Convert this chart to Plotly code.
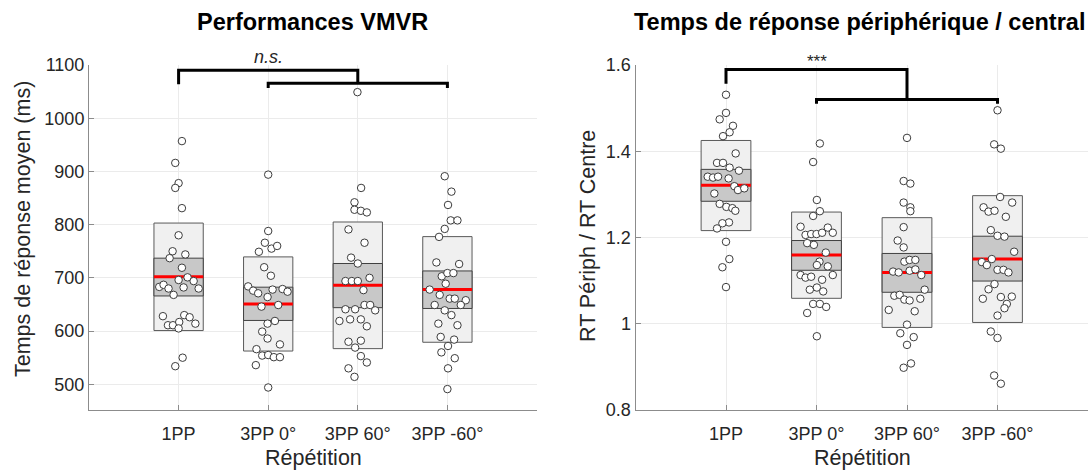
import plotly.graph_objects as go

# ---------------- data ----------------
categories = ["1PP", "3PP 0°", "3PP 60°", "3PP -60°"]
cat_pos = [1, 2, 3, 4]

# Left panel: Performances VMVR (ms)
vmvr_1pp = [957, 916, 878, 869, 831, 780, 750, 737, 744, 719, 683, 687, 680, 668, 696, 682, 701, 694, 680,
            628, 611, 611, 617, 630, 626, 614, 605, 550, 534]
vmvr_1pp_jit = [0.037, -0.037, 0, -0.037, 0.037, 0, -0.067, -0.1, 0.075, 0.037, -0.216, -0.168, -0.112, -0.056,
                0, 0.056, 0.1, 0.168, 0.224, -0.175, -0.119, -0.063, 0.007, 0.063, 0.123, 0.187, 0, 0.045, -0.037]
vmvr_0 = [894, 788, 766, 755, 760, 749, 720, 704, 684, 676, 671, 664, 678, 679, 674, 646, 649, 614, 619,
          599, 586, 575, 566, 554, 555, 551, 551, 536, 494]
vmvr_0_jit = [0, 0, -0.037, 0.037, 0.1, -0.104, -0.045, 0.03, -0.224, -0.168, -0.112, -0.007, 0.049, 0.160,
              0.216, -0.075, 0.112, -0.007, 0.075, -0.067, -0.007, 0.131, -0.131, -0.067, 0, 0.063, 0.131, -0.138, 0]
vmvr_60 = [1049, 869, 842, 828, 826, 823, 791, 766, 738, 727, 694, 694, 694, 700, 677, 649, 649, 639, 641, 641,
           619, 622, 622, 609, 580, 582, 569, 553, 541, 530, 514]
vmvr_60_jit = [-0.004, 0.037, -0.037, -0.037, 0.034, 0.101, -0.104, 0.075, -0.075, 0, -0.138, -0.067, 0, 0.131,
               0.063, 0.075, 0.138, 0.194, -0.138, -0.03, -0.205, -0.086, 0.034, 0.101, -0.104, 0.034, -0.03,
               0.034, 0.101, -0.104, -0.037]
vmvr_m60 = [891, 862, 837, 808, 808, 792, 777, 729, 726, 703, 709, 709, 689, 678, 668, 661, 661, 658, 649, 649,
            639, 630, 614, 611, 589, 584, 572, 560, 549, 530, 491]
vmvr_m60_jit = [-0.03, 0.045, 0.007, 0.037, 0.112, -0.03, -0.093, -0.123, 0.131, -0.063, 0, 0.067, -0.019, -0.198,
                -0.086, 0.026, 0.082, 0.205, 0.149, -0.142, -0.03, 0.045, -0.101, 0.112, -0.075, 0.075, 0.007,
                -0.067, 0.082, 0.007, 0]
vmvr_mean = [702, 651, 686, 678]
vmvr_sd_lo = [601, 562.5, 567, 579]
vmvr_sd_hi = [803, 739.4, 805, 777.5]
vmvr_ci_lo = [666, 620, 644, 642.5]
vmvr_ci_hi = [737, 682.5, 727, 713]

# Right panel: RT périph / RT centre
rt_1pp = [1.531, 1.489, 1.474, 1.459, 1.444, 1.435, 1.395, 1.373, 1.373, 1.362, 1.355, 1.341, 1.339, 1.341,
          1.337, 1.319, 1.310, 1.314, 1.302, 1.278, 1.271, 1.268, 1.262, 1.235, 1.233, 1.221, 1.190, 1.150,
          1.131, 1.085]
rt_1pp_jit = [0, 0, -0.07, 0.077, 0.04, -0.033, 0.107, -0.099, -0.033, 0.04, 0.143, -0.202, -0.143, -0.088,
              0.029, 0.092, 0.132, 0.202, -0.129, -0.07, 0.004, 0.07, 0.103, 0.033, -0.04, -0.099, 0, 0.037,
              -0.04, 0]
rt_0 = [1.418, 1.375, 1.287, 1.261, 1.250, 1.225, 1.206, 1.208, 1.208, 1.211, 1.223, 1.211, 1.187, 1.183,
        1.165, 1.144, 1.136, 1.133, 1.113, 1.113, 1.107, 1.109, 1.102, 1.079, 1.084, 1.075, 1.046, 1.046,
        1.039, 1.025, 0.971]
rt_0_jit = [0.037, -0.037, 0.004, 0.037, -0.037, -0.176, -0.121, -0.059, 0, 0.062, 0.125, 0.180, -0.103,
            -0.029, 0.103, 0.033, 0.004, 0.125, 0.180, -0.176, -0.121, -0.059, 0.062, -0.074, 0.004, 0.074,
            -0.037, 0.037, 0.107, -0.103, 0.004]
rt_60 = [1.431, 1.331, 1.325, 1.281, 1.270, 1.261, 1.224, 1.193, 1.177, 1.144, 1.148, 1.148, 1.121, 1.119,
         1.123, 1.126, 1.113, 1.079, 1.065, 1.067, 1.056, 1.054, 1.058, 1.032, 1.029, 0.998, 0.978, 0.969,
         0.951, 0.898, 0.908]
rt_60_jit = [0, -0.037, 0.037, -0.037, 0.037, 0.037, -0.037, -0.103, -0.037, -0.029, 0.029, 0.092, -0.154,
             -0.092, 0.029, 0.092, 0.158, 0.195, -0.140, -0.081, -0.029, 0.029, 0.147, -0.202, 0.085, 0,
             -0.074, 0.074, 0, -0.037, 0.044]
rt_m60 = [1.495, 1.416, 1.406, 1.294, 1.281, 1.270, 1.260, 1.262, 1.248, 1.217, 1.204, 1.202, 1.167, 1.143,
          1.136, 1.150, 1.125, 1.125, 1.119, 1.092, 1.080, 1.058, 1.062, 1.063, 1.046, 1.036, 1.019, 0.982,
          0.967, 0.880, 0.861]
rt_m60_jit = [0, -0.037, 0.037, 0.029, 0.162, -0.154, -0.099, -0.033, 0.092, -0.074, 0, 0.077, 0.184, -0.173,
              -0.118, -0.063, 0, 0.066, 0.121, -0.033, -0.099, -0.162, 0.037, 0.158, 0.103, 0.077, 0, -0.074,
              0, -0.037, 0.037]
rt_mean = [1.321, 1.1595, 1.1187, 1.1503]
rt_sd_lo = [1.216, 1.059, 0.9915, 1.003]
rt_sd_hi = [1.425, 1.259, 1.246, 1.297]
rt_ci_lo = [1.284, 1.124, 1.073, 1.099]
rt_ci_hi = [1.358, 1.193, 1.163, 1.203]

# significance brackets
vmvr_bracket = dict(top=1090, low=1065.5, low_end=1057, top_end=1064, label="<i>n.s.</i>")
rt_bracket = dict(top=1.5896, low=1.520, low_end=1.510, top_end=1.5565, label="***")

# ---------------- figure ----------------
W, H = 1091, 471
FONT = "Liberation Sans, Arial, Helvetica, sans-serif"
TXT = "#262626"
hw = 0.275

fig = go.Figure()

panels = [
    ("x", "y", [vmvr_1pp, vmvr_0, vmvr_60, vmvr_m60], [vmvr_1pp_jit, vmvr_0_jit, vmvr_60_jit, vmvr_m60_jit],
     vmvr_mean, vmvr_sd_lo, vmvr_sd_hi, vmvr_ci_lo, vmvr_ci_hi),
    ("x2", "y2", [rt_1pp, rt_0, rt_60, rt_m60], [rt_1pp_jit, rt_0_jit, rt_60_jit, rt_m60_jit],
     rt_mean, rt_sd_lo, rt_sd_hi, rt_ci_lo, rt_ci_hi),
]

for xa, ya, groups, jits, mean, sdl, sdh, cil, cih in panels:
    for i, c in enumerate(cat_pos):
        fig.add_trace(go.Scatter(
            x=[c - hw, c + hw, c + hw, c - hw, c - hw], y=[sdl[i], sdl[i], sdh[i], sdh[i], sdl[i]],
            mode="lines", fill="toself", fillcolor="#f0f0f0", line=dict(color="#5a5a5a", width=1),
            xaxis=xa, yaxis=ya, hoverinfo="skip", showlegend=False))
        fig.add_trace(go.Scatter(
            x=[c - hw, c + hw, c + hw, c - hw, c - hw], y=[cil[i], cil[i], cih[i], cih[i], cil[i]],
            mode="lines", fill="toself", fillcolor="#c8c8c8", line=dict(color="#404040", width=1),
            xaxis=xa, yaxis=ya, hoverinfo="skip", showlegend=False))
        fig.add_trace(go.Scatter(
            x=[c - hw, c + hw], y=[mean[i], mean[i]], mode="lines",
            line=dict(color="#ff0000", width=3), xaxis=xa, yaxis=ya, hoverinfo="skip", showlegend=False))
    for i, c in enumerate(cat_pos):
        fig.add_trace(go.Scatter(
            x=[c + j for j in jits[i]], y=groups[i], mode="markers",
            marker=dict(size=7.5, color="white", line=dict(color="#3c3c3c", width=1)),
            xaxis=xa, yaxis=ya, showlegend=False, name=categories[i]))

shapes = []
annotations = []
for xa, ya, b, label_px, lsize in [("x", "y", vmvr_bracket, 57, 18), ("x2", "y2", rt_bracket, 62, 17)]:
    lw = dict(color="black", width=3)
    path_top = f"M 1,{b['top_end']} L 1,{b['top']} L 3,{b['top']} L 3,{b['low']}"
    path_low = f"M 2,{b['low_end']} L 2,{b['low']} L 4,{b['low']} L 4,{b['low_end']}"
    for p in (path_top, path_low):
        shapes.append(dict(type="path", path=p, xref=xa, yref=ya, line=lw, layer="above"))
    annotations.append(dict(x=2, y=1 - label_px / H, xref=xa, yref="paper", text=b["label"], showarrow=False,
                            xanchor="center", yanchor="middle",
                            font=dict(family=FONT, size=lsize, color=TXT)))


def ann(x, y, text, size, color, angle=0, xanchor="center"):
    return dict(x=x / W, y=1 - y / H, xref="paper", yref="paper", text=text, textangle=angle,
                showarrow=False, xanchor=xanchor, yanchor="middle",
                font=dict(family=FONT, size=size, color=color))


annotations += [
    ann(312, 22, "<b>Performances VMVR</b>", 23.5, "black"),
    ann(860, 22, "<b>Temps de réponse périphérique / central</b>", 23.5, "black"),
    ann(313, 458, "Répétition", 21.5, TXT),
    ann(862, 458, "Répétition", 21.5, TXT),
    ann(23, 229, "Temps de réponse moyen (ms)", 21.5, TXT, angle=-90),
    ann(588, 236, "RT Périph / RT Centre", 21.5, TXT, angle=-90),
]

axis_common = dict(showgrid=True, gridcolor="#ebebeb", gridwidth=1, showline=True, linecolor="#8c8c8c",
                   linewidth=1, ticks="inside", ticklen=5, tickcolor="#8c8c8c", zeroline=False,
                   tickfont=dict(family=FONT, size=18, color=TXT), mirror=False, automargin=False)
ydom = [61 / H, 406 / H]

fig.update_layout(
    template="none",
    width=W, height=H, margin=dict(l=0, r=0, t=0, b=0, pad=0),
    paper_bgcolor="white", plot_bgcolor="white", showlegend=False,
    xaxis=dict(domain=[89 / W, 537 / W], range=[0, 5], tickvals=cat_pos, ticktext=categories,
               anchor="y", ticklabelstandoff=7, **axis_common),
    yaxis=dict(domain=ydom, range=[451.7, 1100], tickvals=[500, 600, 700, 800, 900, 1000, 1100],
               anchor="x", **axis_common),
    xaxis2=dict(domain=[635.5 / W, 1088 / W], range=[0, 5], tickvals=cat_pos, ticktext=categories,
                anchor="y2", ticklabelstandoff=7, **axis_common),
    yaxis2=dict(domain=ydom, range=[0.8, 1.6], tickvals=[0.8, 1.0, 1.2, 1.4, 1.6],
                ticktext=["0.8", "1", "1.2", "1.4", "1.6"], anchor="x2", **axis_common),
    shapes=shapes, annotations=annotations,
)

fig.write_html("out.html", config={"displayModeBar": False},
               post_script="document.body.style.margin='0';")
